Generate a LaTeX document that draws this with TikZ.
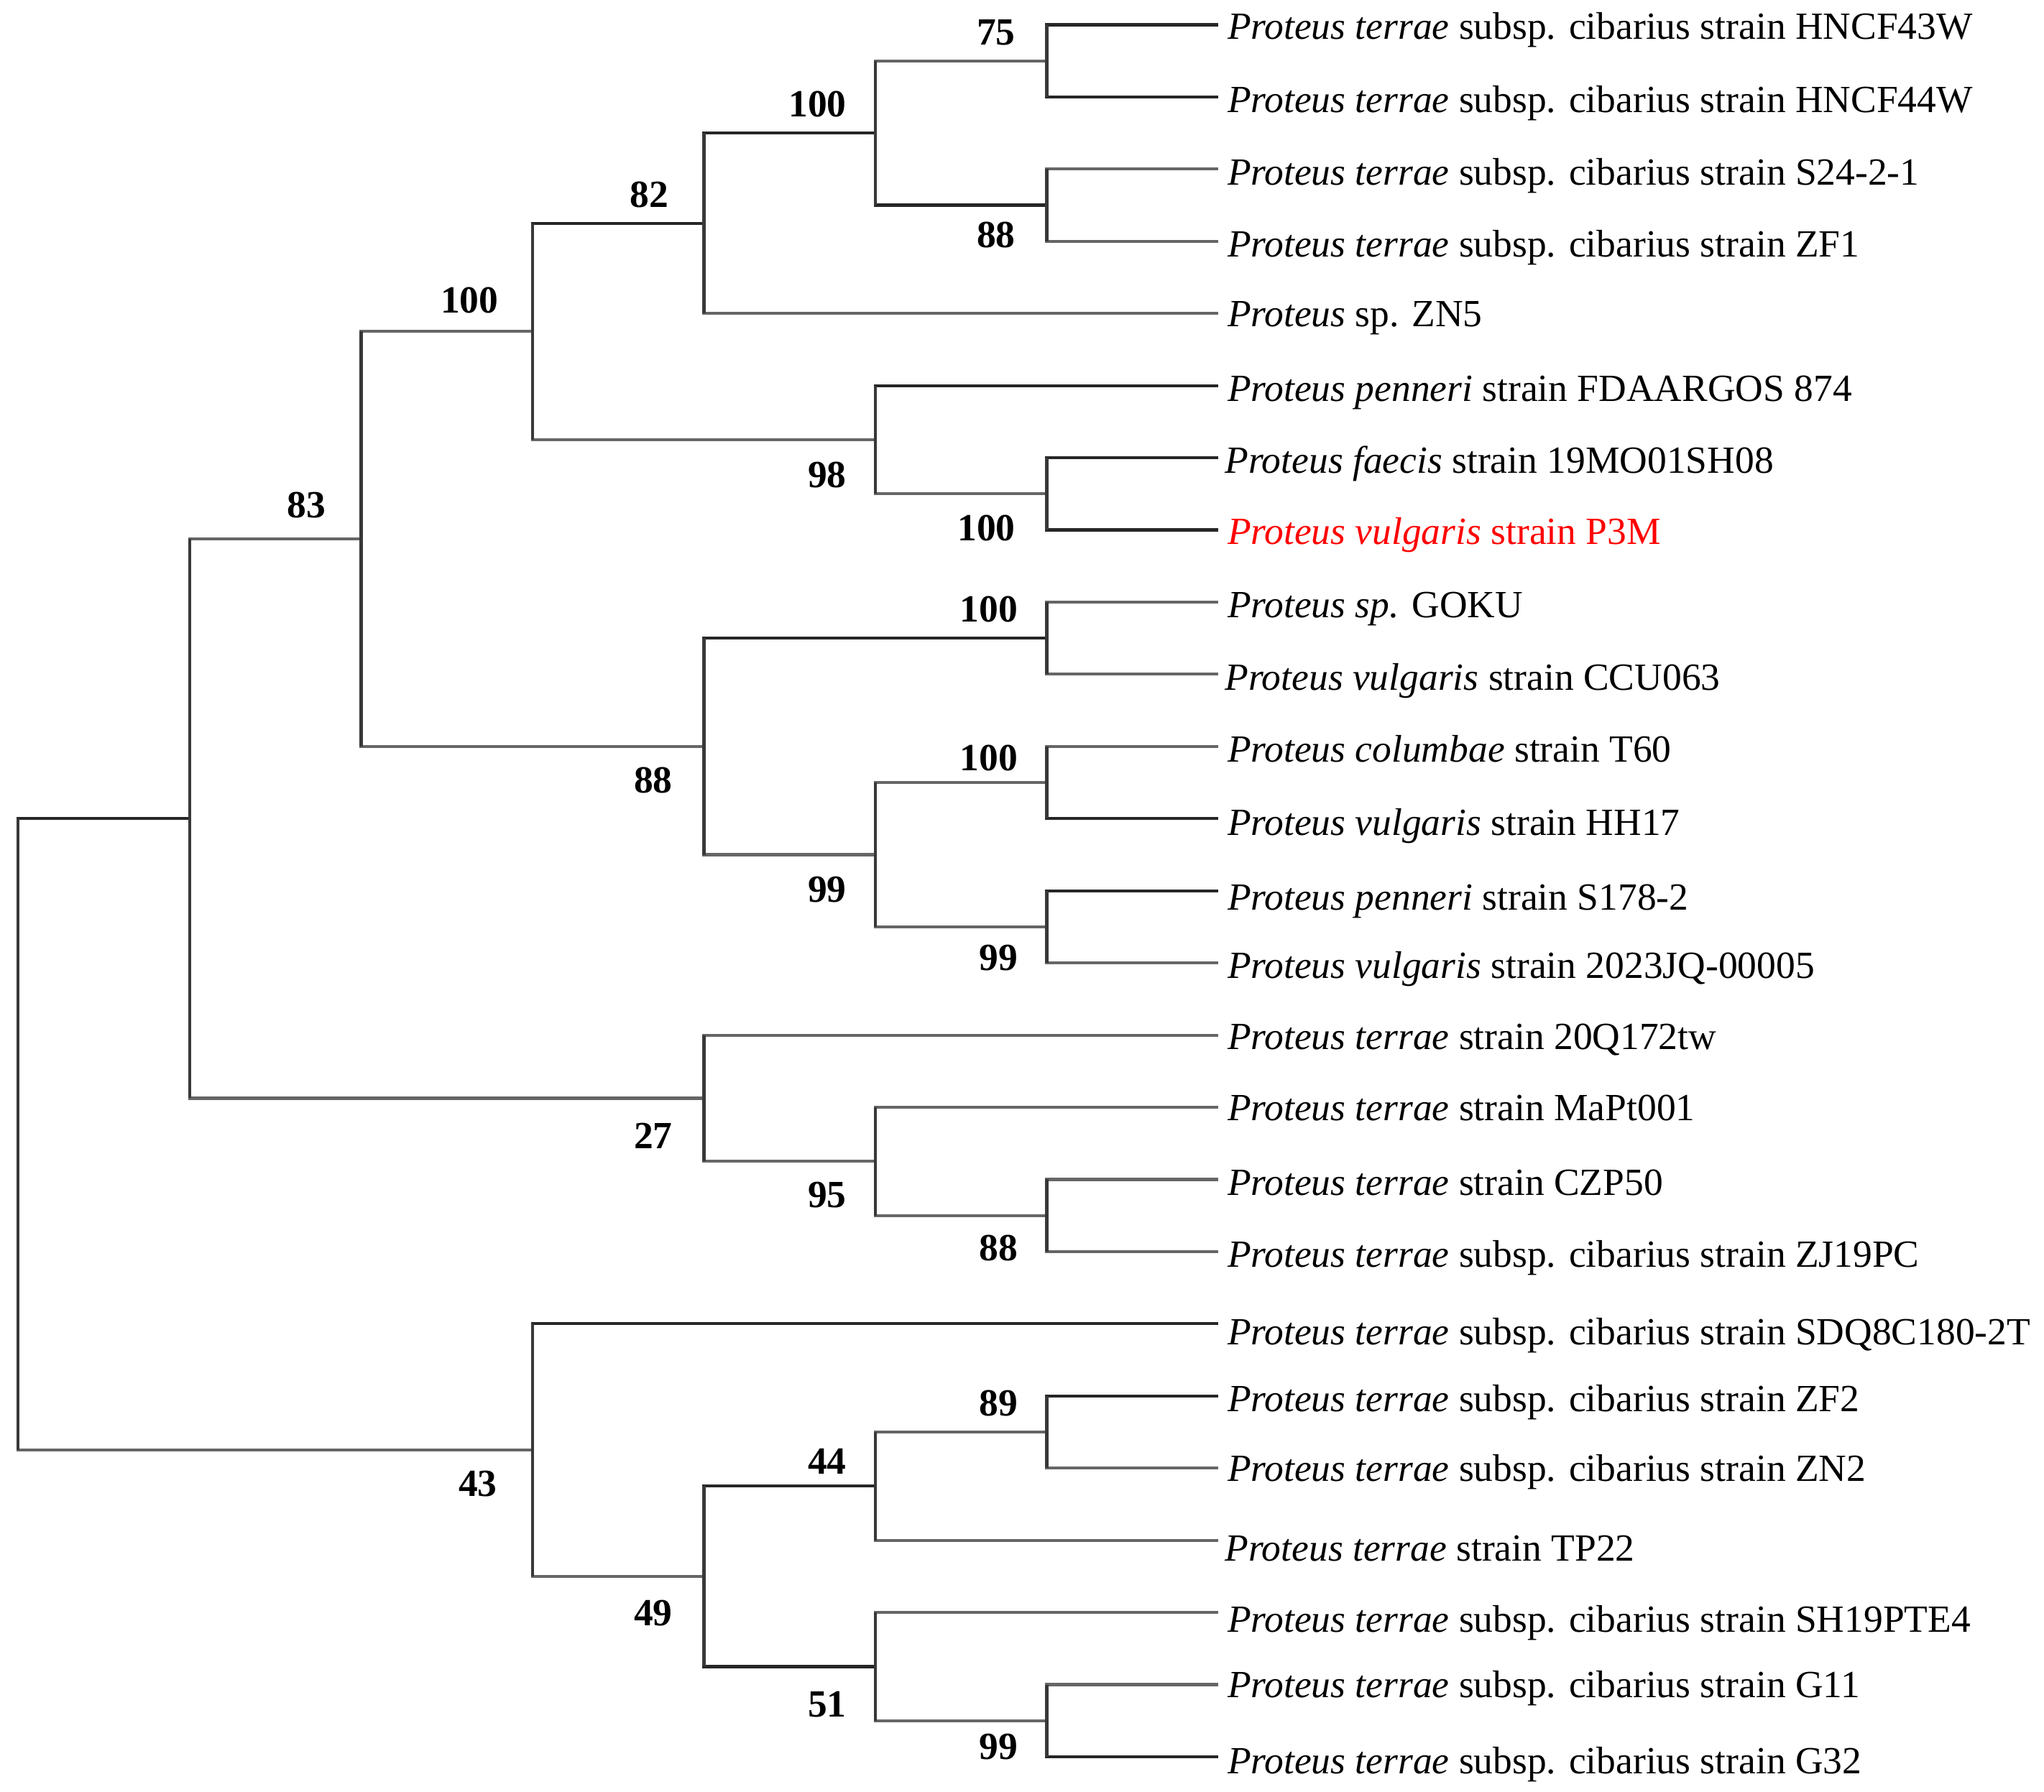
\documentclass[tikz,border=0pt]{standalone}
\usepackage{fontspec}
\setmainfont{Liberation Serif}
\usetikzlibrary{calc}
\begin{document}
\begin{tikzpicture}[x=1pt,y=-1pt,
  dk/.style={draw=black!85,line width=2.3pt},
  gr/.style={draw=black!60,line width=2.3pt},
  vt/.style={draw=black!78,line width=2.3pt},
  leaf/.style={anchor=base west,inner sep=0pt,font=\fontsize{29.5}{32}\selectfont},
  lab/.style={anchor=east,inner sep=0pt,font=\fontsize{29.5}{32}\selectfont\bfseries},
  redleaf/.style={leaf,text=red}]
\useasboundingbox (0,0) rectangle (1568,1375);
% leaf end points
\foreach \k in {0,...,24}{\coordinate (e\k) at (934.5,{19+55.375*\k});}
% internal nodes
\coordinate (A) at (803,{19+55.375*0.5});
\coordinate (B) at (803,{19+55.375*2.5});
\coordinate (C) at (671.5,{19+55.375*1.5});
\coordinate (D) at (540,{19+55.375*2.75});
\coordinate (E) at (803,{19+55.375*6.5});
\coordinate (F) at (671.5,{19+55.375*5.75});
\coordinate (G) at (408.5,{19+55.375*4.25});
\coordinate (H) at (803,{19+55.375*8.5});
\coordinate (I) at (803,{19+55.375*10.5});
\coordinate (J) at (803,{19+55.375*12.5});
\coordinate (K) at (671.5,{19+55.375*11.5});
\coordinate (L) at (540,{19+55.375*10});
\coordinate (M) at (277,{19+55.375*7.125});
\coordinate (N) at (803,{19+55.375*16.5});
\coordinate (O) at (671.5,{19+55.375*15.75});
\coordinate (P) at (540,{19+55.375*14.875});
\coordinate (Q) at (145.5,{19+55.375*11});
\coordinate (R) at (803,{19+55.375*19.5});
\coordinate (S) at (671.5,{19+55.375*20.25});
\coordinate (T) at (803,{19+55.375*23.5});
\coordinate (U) at (671.5,{19+55.375*22.75});
\coordinate (V) at (540,{19+55.375*21.5});
\coordinate (W) at (408.5,{19+55.375*19.75});
\coordinate (root) at (14,{19+55.375*15.375});
% edges
\draw[dk] (A) |- (e0);  \draw[dk] (A) |- (e1);
\draw[gr] (B) |- (e2);  \draw[gr] (B) |- (e3);
\draw[gr] (C) |- (A);   \draw[dk] (C) |- (B);
\draw[dk] (D) |- (C);   \draw[gr] (D) |- (e4);
\draw[dk] (E) |- (e6);  \draw[dk] (E) |- (e7);
\draw[dk] (F) |- (e5);  \draw[gr] (F) |- (E);
\draw[dk] (G) |- (D);   \draw[gr] (G) |- (F);
\draw[gr] (H) |- (e8);  \draw[gr] (H) |- (e9);
\draw[gr] (I) |- (e10); \draw[dk] (I) |- (e11);
\draw[dk] (J) |- (e12); \draw[gr] (J) |- (e13);
\draw[gr] (K) |- (I);   \draw[gr] (K) |- (J);
\draw[dk] (L) |- (H);   \draw[gr] (L) |- (K);
\draw[gr] (M) |- (G);   \draw[gr] (M) |- (L);
\draw[gr] (N) |- (e16); \draw[gr] (N) |- (e17);
\draw[gr] (O) |- (e15); \draw[gr] (O) |- (N);
\draw[gr] (P) |- (e14); \draw[gr] (P) |- (O);
\draw[gr] (Q) |- (M);   \draw[gr] (Q) |- (P);
\draw[dk] (R) |- (e19); \draw[gr] (R) |- (e20);
\draw[gr] (S) |- (R);   \draw[gr] (S) |- (e21);
\draw[gr] (T) |- (e23); \draw[dk] (T) |- (e24);
\draw[gr] (U) |- (e22); \draw[gr] (U) |- (T);
\draw[dk] (V) |- (S);   \draw[dk] (V) |- (U);
\draw[dk] (W) |- (e18); \draw[gr] (W) |- (V);
\draw[dk] (root) |- (Q); \draw[gr] (root) |- (W);
% verticals
\draw[vt] (A |- e0) -- (A |- e1);
\draw[vt] (B |- e2) -- (B |- e3);
\draw[vt] (C |- A) -- (C |- B);
\draw[vt] (D |- C) -- (D |- e4);
\draw[vt] (E |- e6) -- (E |- e7);
\draw[vt] (F |- e5) -- (F |- E);
\draw[vt] (G |- D) -- (G |- F);
\draw[vt] (H |- e8) -- (H |- e9);
\draw[vt] (I |- e10) -- (I |- e11);
\draw[vt] (J |- e12) -- (J |- e13);
\draw[vt] (K |- I) -- (K |- J);
\draw[vt] (L |- H) -- (L |- K);
\draw[vt] (M |- G) -- (M |- L);
\draw[vt] (N |- e16) -- (N |- e17);
\draw[vt] (O |- e15) -- (O |- N);
\draw[vt] (P |- e14) -- (P |- O);
\draw[vt] (Q |- M) -- (Q |- P);
\draw[vt] (R |- e19) -- (R |- e20);
\draw[vt] (S |- R) -- (S |- e21);
\draw[vt] (T |- e23) -- (T |- e24);
\draw[vt] (U |- e22) -- (U |- T);
\draw[vt] (V |- S) -- (V |- U);
\draw[vt] (W |- e18) -- (W |- V);
\draw[vt] (root |- Q) -- (root |- W);
% bootstrap labels
\node[lab] (lA) at ($(A)+(-24,-22)$) {75};
\node[lab] (lB) at ($(B)+(-24,23)$) {88};
\node[lab] (lC) at ($(C)+(-22,-22)$) {100};
\node[lab] (lD) at ($(D)+(-27,-22)$) {82};
\node[lab] (lE) at ($(E)+(-24,26)$) {100};
\node[lab] (lF) at ($(F)+(-22,27)$) {98};
\node[lab] (lG) at ($(G)+(-26,-24)$) {100};
\node[lab] (lH) at ($(H)+(-22,-22)$) {100};
\node[lab] (lI) at ($(I)+(-22,-19)$) {100};
\node[lab] (lJ) at ($(J)+(-22,24)$) {99};
\node[lab] (lK) at ($(K)+(-22,27)$) {99};
\node[lab] (lL) at ($(L)+(-24,26)$) {88};
\node[lab] (lM) at ($(M)+(-27,-26)$) {83};
\node[lab] (lN) at ($(N)+(-22,25)$) {88};
\node[lab] (lO) at ($(O)+(-22,26)$) {95};
\node[lab] (lP) at ($(P)+(-24,29)$) {27};
\node[lab] (lR) at ($(R)+(-22,-22)$) {89};
\node[lab] (lS) at ($(S)+(-22,-19)$) {44};
\node[lab] (lT) at ($(T)+(-22,20)$) {99};
\node[lab] (lU) at ($(U)+(-22,29)$) {51};
\node[lab] (lV) at ($(V)+(-24,28)$) {49};
\node[lab] (lW) at ($(W)+(-27,26)$) {43};
% leaf names (baseline below the branch line)
\node[leaf] (t0) at ($(e0)+(7,11)$) {\textit{Proteus terrae} subsp. cibarius strain HNCF43W};
\node[leaf] (t1) at ($(e1)+(7,12)$) {\textit{Proteus terrae} subsp. cibarius strain HNCF44W};
\node[leaf] (t2) at ($(e2)+(7,12)$) {\textit{Proteus terrae} subsp. cibarius strain S24-2-1};
\node[leaf] (t3) at ($(e3)+(7,12)$) {\textit{Proteus terrae} subsp. cibarius strain ZF1};
\node[leaf] (t4) at ($(e4)+(7,10)$) {\textit{Proteus} sp. ZN5};
\node[leaf] (t5) at ($(e5)+(7,12)$) {\textit{Proteus penneri} strain FDAARGOS 874};
\node[leaf] (t6) at ($(e6)+(5,12)$) {\textit{Proteus faecis} strain 19MO01SH08};
\node[redleaf] (t7) at ($(e7)+(7,11)$) {\textit{Proteus vulgaris} strain P3M};
\node[leaf] (t8) at ($(e8)+(7,12)$) {\textit{Proteus sp.} GOKU};
\node[leaf] (t9) at ($(e9)+(5,12)$) {\textit{Proteus vulgaris} strain CCU063};
\node[leaf] (t10) at ($(e10)+(7,12)$) {\textit{Proteus columbae} strain T60};
\node[leaf] (t11) at ($(e11)+(7,13)$) {\textit{Proteus vulgaris} strain HH17};
\node[leaf] (t12) at ($(e12)+(7,15)$) {\textit{Proteus penneri} strain S178-2};
\node[leaf] (t13) at ($(e13)+(7,12)$) {\textit{Proteus vulgaris} strain 2023JQ-00005};
\node[leaf] (t14) at ($(e14)+(7,11)$) {\textit{Proteus terrae} strain 20Q172tw};
\node[leaf] (t15) at ($(e15)+(7,10)$) {\textit{Proteus terrae} strain MaPt001};
\node[leaf] (t16) at ($(e16)+(7,12)$) {\textit{Proteus terrae} strain CZP50};
\node[leaf] (t17) at ($(e17)+(7,12)$) {\textit{Proteus terrae} subsp. cibarius strain ZJ19PC};
\node[leaf] (t18) at ($(e18)+(7,16)$) {\textit{Proteus terrae} subsp. cibarius strain SDQ8C180-2T};
\node[leaf] (t19) at ($(e19)+(7,12)$) {\textit{Proteus terrae} subsp. cibarius strain ZF2};
\node[leaf] (t20) at ($(e20)+(7,10)$) {\textit{Proteus terrae} subsp. cibarius strain ZN2};
\node[leaf] (t21) at ($(e21)+(5,16)$) {\textit{Proteus terrae} strain TP22};
\node[leaf] (t22) at ($(e22)+(7,15)$) {\textit{Proteus terrae} subsp. cibarius strain SH19PTE4};
\node[leaf] (t23) at ($(e23)+(7,10)$) {\textit{Proteus terrae} subsp. cibarius strain G11};
\node[leaf] (t24) at ($(e24)+(7,13)$) {\textit{Proteus terrae} subsp. cibarius strain G32};
\end{tikzpicture}
\end{document}
